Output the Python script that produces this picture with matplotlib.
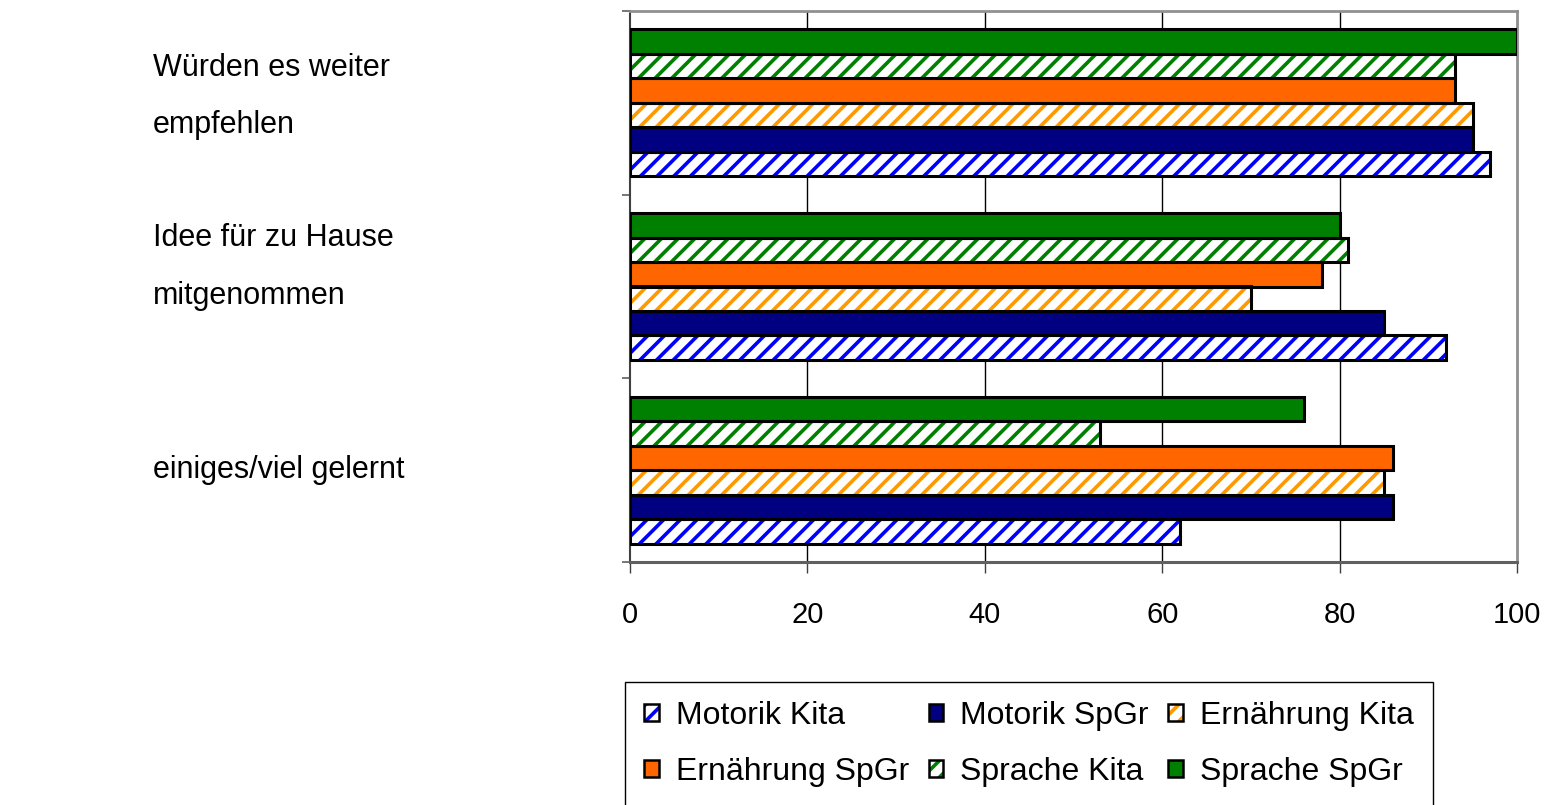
#!/usr/bin/env python3

import numpy as np
import matplotlib
matplotlib.use("Agg")
import matplotlib.pyplot as plt
import matplotlib.transforms as mtransforms
from matplotlib.patches import Patch

# Data ------------------------------------------------------------------------------------------------------

categories = ["Würden es weiter\nempfehlen", "Idee für zu Hause\nmitgenommen", "einiges/viel gelernt"]

motorik_kita = [97, 92, 62]
motorik_spgr = [95, 85, 86]
ernaehrung_kita = [95, 70, 85]
ernaehrung_spgr = [93, 78, 86]
sprache_kita = [93, 81, 53]
sprache_spgr = [100, 80, 76]

labels = ["Motorik Kita", "Motorik SpGr", "Ernährung Kita",
          "Ernährung SpGr", "Sprache Kita", "Sprache SpGr"]
xticks = [0, 20, 40, 60, 80, 100]

# Style -----------------------------------------------------------------------------------------------------

series = [motorik_kita, motorik_spgr, ernaehrung_kita, ernaehrung_spgr, sprache_kita, sprache_spgr]
colors = ["#0000ff", "#000080", "#ff9900", "#ff6600", "#008000", "#008000"]
hatched = [True, False, True, False, True, False]

plt.rcParams["hatch.linewidth"] = 2.6
regular = ["Liberation Sans", "DejaVu Sans"]

fig = plt.figure(figsize=(15.44, 8.05), dpi=100)
ax = fig.add_axes([630 / 1544, 1 - 562 / 805, (1517 - 630) / 1544, (562 - 11) / 805])

# Bars ------------------------------------------------------------------------------------------------------

y = np.arange(len(categories))[::-1]
bar_h = 0.8 / len(series)
handles = []

for i, vals in enumerate(series):
    pos = y + (i - 2.5) * bar_h
    if hatched[i]:
        ax.barh(pos, vals, height=bar_h, color="white", edgecolor=colors[i],
                hatch="//", linewidth=0, zorder=3)
        ax.barh(pos, vals, height=bar_h, fill=False, edgecolor="k", linewidth=2.2, zorder=4)
        handles.append((Patch(facecolor="white", edgecolor=colors[i], hatch="//", linewidth=0),
                        Patch(fill=False, edgecolor="k", linewidth=1.8)))
    else:
        ax.barh(pos, vals, height=bar_h, color=colors[i], edgecolor="k", linewidth=2.2, zorder=3)
        handles.append(Patch(facecolor=colors[i], edgecolor="k", linewidth=1.8))

# Axes ------------------------------------------------------------------------------------------------------

ax.set_xlim(0, 100)
ax.set_ylim(-0.5, len(categories) - 0.5)
ax.set_xticks(xticks)
ax.set_xticklabels([str(t) for t in xticks], family=regular, fontsize=21)
ax.set_yticks(np.arange(len(categories) + 1) - 0.5)
ax.set_yticklabels([])
ax.tick_params(axis="x", direction="out", length=8, width=1, color="#404040", pad=20)
ax.tick_params(axis="y", direction="out", length=6, width=1.2, color="#606060")

for x in xticks[1:-1]:
    ax.axvline(x, color="k", linewidth=1, zorder=1)

ax.spines["top"].set_color("#909090")
ax.spines["top"].set_linewidth(2)
ax.spines["right"].set_color("#909090")
ax.spines["right"].set_linewidth(2)
ax.spines["bottom"].set_color("#606060")
ax.spines["bottom"].set_linewidth(2.2)
ax.spines["left"].set_color("#404040")
ax.spines["left"].set_linewidth(1.5)

# Category labels on the left
trans = mtransforms.blended_transform_factory(fig.transFigure, ax.transData)
label_offs = [0.035, 0.105, 0.0]
for j, cat in enumerate(categories):
    ax.text(153 / 1544, y[j] + label_offs[j], cat, transform=trans, ha="left", va="center",
            fontsize=22, family=regular, linespacing=2.2)

# Legend ----------------------------------------------------------------------------------------------------

# row-wise order like the original
order = [0, 3, 1, 4, 2, 5]
leg = fig.legend([handles[k] for k in order], [labels[k] for k in order], loc="upper left",
                 bbox_to_anchor=(625 / 1544, 1 - 682 / 805), borderaxespad=0,
                 ncol=3, fancybox=False, shadow=False, framealpha=1, edgecolor="k",
                 prop={"family": regular, "size": 23}, handlelength=0.45, handleheight=0.45,
                 handletextpad=0.55, columnspacing=0.6, labelspacing=0.8, borderpad=0.6)
leg.get_frame().set_linewidth(1)

fig.savefig("out.png", dpi=100)
